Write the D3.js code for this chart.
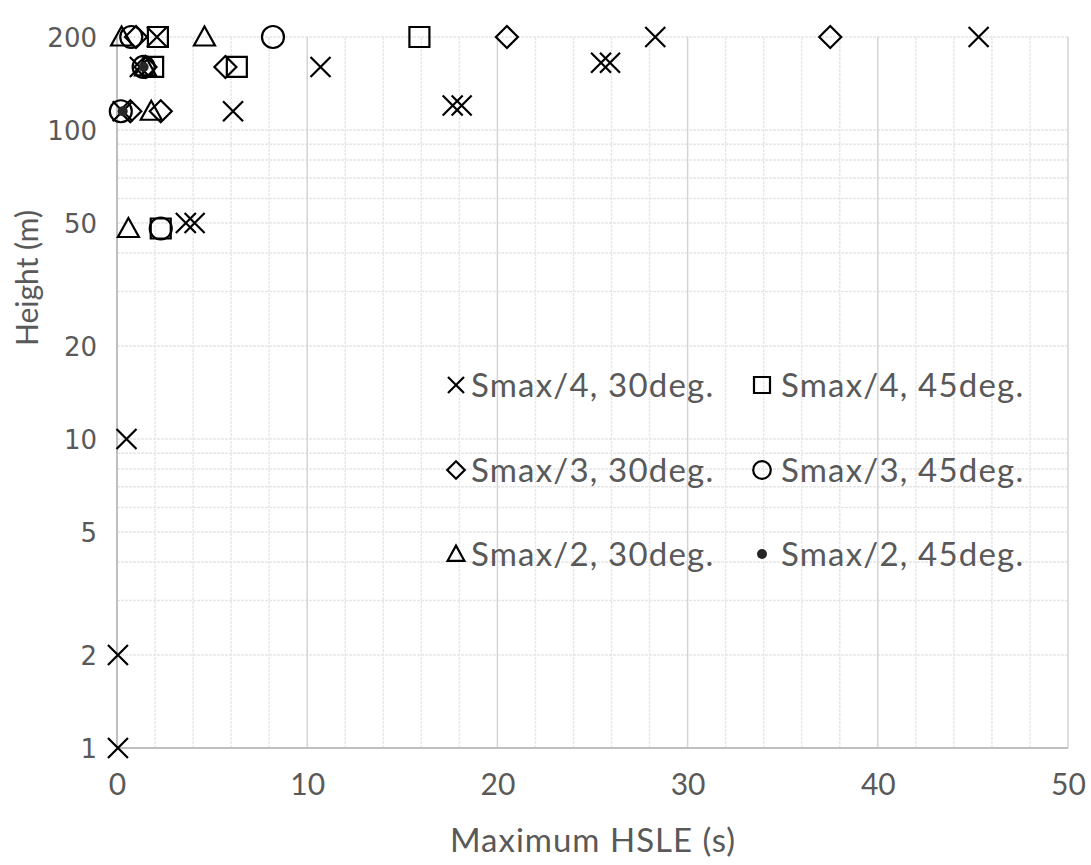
<!DOCTYPE html>
<html><head><meta charset="utf-8">
<script src="https://cdn.jsdelivr.net/npm/d3@7"></script>
<style>body{margin:0;background:#fff}svg{display:block}</style>
</head><body>
<svg id="chart" width="1091" height="865"></svg>
<script>
// ---- data (Maximum HSLE in s, Height in m) ----
const seriesNames = ["Smax/4, 30deg.","Smax/4, 45deg.","Smax/3, 30deg.","Smax/3, 45deg.","Smax/2, 30deg.","Smax/2, 45deg."];
const s4_30_x = [0.05,0.05,0.5,3.62,4.08,0.3,6.1,17.65,18.12,1.2,10.7,25.45,25.92,2.1,28.3,45.3];
const s4_30_h = [1,2,10,50,50,115,115,120,120,160,160,165,165,200,200,200];
const s4_45_x = [2.3,1.9,6.3,2.15,15.9];
const s4_45_h = [48,160,160,200,200];
const s3_30_x = [0.7,2.3,1.5,5.7,1.0,20.5,37.5];
const s3_30_h = [115,115,160,160,200,200,200];
const s3_45_x = [2.3,0.2,1.4,0.75,8.2];
const s3_45_h = [48,115,160,200,200];
const s2_30_x = [0.6,1.8,1.5,0.24,4.6];
const s2_30_h = [48,115,160,200,200];
const s2_45_x = [0.3,1.4];
const s2_45_h = [115,160];
const xTicks = [0,10,20,30,40,50];
const yTicks = [1,2,5,10,20,50,100,200];

const shapes = ["cross","square","diamond","circle","triangle","dot"];
const xs = [s4_30_x,s4_45_x,s3_30_x,s3_45_x,s2_30_x,s2_45_x];
const hs = [s4_30_h,s4_45_h,s3_30_h,s3_45_h,s2_30_h,s2_45_h];

const svg = d3.select("#chart");
const x = d3.scaleLinear().domain([0,50]).range([117,1068]);
const y = d3.scaleLog().domain([1,200]).range([748,37]);

const textCol = "#595959";

// grid
const g = svg.append("g");
const xMinor = d3.range(0,51,2).filter(v=>v%10!==0);
const yMinor = [];
[1,10,100].forEach(d=>{for(let k=1;k<10;k++){const v=d*k; if(v<=200) yMinor.push(v);}});
g.selectAll(".hy").data(yMinor).join("line")
 .attr("x1",x(0)).attr("x2",x(50)).attr("y1",d=>y(d)).attr("y2",d=>y(d))
 .attr("stroke","#e6e6e6").attr("stroke-width",1.5).attr("stroke-dasharray","3,1");
g.selectAll(".vx").data(xMinor).join("line")
 .attr("y1",y(1)).attr("y2",y(200)).attr("x1",d=>x(d)).attr("x2",d=>x(d))
 .attr("stroke","#e8e8e8").attr("stroke-width",1.5).attr("stroke-dasharray","3,1");
g.selectAll(".vM").data(xTicks.slice(1)).join("line")
 .attr("y1",y(1)).attr("y2",y(200)).attr("x1",d=>x(d)).attr("x2",d=>x(d))
 .attr("stroke","#d4d4d4").attr("stroke-width",1.5);
// axes lines
svg.append("line").attr("x1",x(0)).attr("x2",x(0)).attr("y1",y(1)).attr("y2",y(200)).attr("stroke","#bfbfbf").attr("stroke-width",2);
svg.append("line").attr("x1",x(0)).attr("x2",x(50)).attr("y1",y(1)).attr("y2",y(1)).attr("stroke","#bfbfbf").attr("stroke-width",2);

// tick labels via axes
const xAxis = svg.append("g").attr("transform",`translate(0,${y(1)})`)
 .call(d3.axisBottom(x).tickValues(xTicks).tickSize(0).tickPadding(26).tickFormat(d3.format("d")));
xAxis.select(".domain").remove();
xAxis.selectAll("text").attr("font-family","Lato, sans-serif").attr("font-size",30).attr("fill",textCol).attr("dy","0.71em");
const yAxis = svg.append("g").attr("transform",`translate(${x(0)},0)`)
 .call(d3.axisLeft(y).tickValues(yTicks).tickSize(0).tickPadding(20).tickFormat(d3.format("d")));
yAxis.select(".domain").remove();
yAxis.selectAll("text").attr("font-family","DejaVu Sans, sans-serif").attr("font-size",26).attr("fill",textCol).attr("dy","0.36em");

// titles
svg.append("text").attr("x",593).attr("y",852).attr("text-anchor","middle").attr("letter-spacing",1)
 .attr("font-family","Lato, sans-serif").attr("font-size",33).attr("fill",textCol).text("Maximum HSLE (s)");
svg.append("text").attr("transform","translate(38,278) rotate(-90)").attr("text-anchor","middle")
 .attr("font-family","Lato, sans-serif").attr("font-size",30).attr("fill",textCol).text("Height (m)");

function symPath(shape,s){
  switch(shape){
    case "cross": return `M${-s},${-s}L${s},${s}M${-s},${s}L${s},${-s}`;
    case "square": return `M${-s},${-s}H${s}V${s}H${-s}Z`;
    case "diamond": return `M0,${-s*1.1}L${s*1.1},0L0,${s*1.1}L${-s*1.1},0Z`;
    case "triangle": return `M0,${-s*1.05}L${s*1.05},${s*0.85}L${-s*1.05},${s*0.85}Z`;
  }
}
function drawMarker(sel,shape,s){
  if(shape==="circle") sel.append("circle").attr("r",s*1.1).attr("fill","none").attr("stroke","#000").attr("stroke-width",2.2);
  else if(shape==="dot") sel.append("circle").attr("r",5).attr("fill","#262626");
  else sel.append("path").attr("d",symPath(shape,s)).attr("fill","none").attr("stroke","#000").attr("stroke-width",2.2);
}

// points
const plot = svg.append("g");
shapes.forEach((sh,i)=>{
  const pts = xs[i].map((v,j)=>({x:v,h:hs[i][j]}));
  plot.append("g").selectAll("g").data(pts).join("g")
   .attr("transform",d=>`translate(${x(d.x)},${y(d.h)})`)
   .each(function(){drawMarker(d3.select(this),sh,10);});
});

// legend
const legX = [456,762], legTX=[471,781], legY=[385,470,554];
seriesNames.forEach((n,i)=>{
  const col=i%2,row=Math.floor(i/2);
  const lg = svg.append("g").attr("transform",`translate(${legX[col]},${legY[row]})`);
  drawMarker(lg,shapes[i],8);
  svg.append("text").attr("x",legTX[col]).attr("y",legY[row]).attr("dy","0.35em").attr("letter-spacing",1.2)
   .attr("font-family","Lato, sans-serif").attr("font-size",33).attr("fill",textCol).text(n);
});
</script>
</body></html>
